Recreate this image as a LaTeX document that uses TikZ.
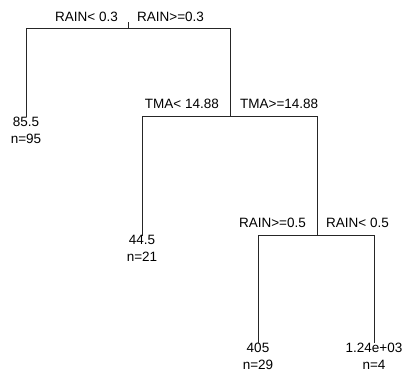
\documentclass[tikz,border=0pt]{standalone}
\usepackage{fontspec}
\setmainfont{Liberation Sans}
\begin{document}
\begin{tikzpicture}[x=1pt,y=-1pt,
  edge/.style={draw=black!85,line width=0.75pt},
  lbl/.style={inner sep=0pt,font=\fontsize{13.5}{17}\selectfont},
  leaf/.style={inner sep=0pt,anchor=north,align=center,font=\fontsize{13.5}{17}\selectfont}]
\useasboundingbox[fill=white] (0,0) rectangle (409,376);
% split points
\coordinate (top) at (128,22);
\coordinate (s1) at (128,28);
\coordinate (s1l) at (26,28);
\coordinate (s1r) at (230,28);
\coordinate (s2) at (230,116);
\coordinate (s2l) at (142,116);
\coordinate (s2r) at (317,116);
\coordinate (s3) at (317,235);
\coordinate (s3l) at (258,235);
\coordinate (s3r) at (374,235);
% split labels
\node[lbl,anchor=east] (l1a) at (118,17) {RAIN< 0.3};
\node[lbl,anchor=west] (l1b) at (137,17) {RAIN>=0.3};
\node[lbl,anchor=east] (l2a) at (219,104) {TMA< 14.88};
\node[lbl,anchor=west] (l2b) at (240,104) {TMA>=14.88};
\node[lbl,anchor=east] (l3a) at (306,223) {RAIN>=0.5};
\node[lbl,anchor=west] (l3b) at (326,223) {RAIN< 0.5};
% leaves
\node[leaf] (f1) at (26,117) {85.5\\n=95};
\node[leaf] (f2) at (142,235.5) {44.5\\n=21};
\node[leaf] (f3) at (258,343) {405\\n=29};
\node[leaf] (f4) at (374,343) {1.24e+03\\n=4};
% connectors
\draw[edge] (top) -- (s1);
\draw[edge] (s1l) -- (s1r);
\draw[edge] (s1l) -- (f1.north);
\draw[edge] (s1r) -- (s2);
\draw[edge] (s2l) -- (s2r);
\draw[edge] (s2l) -- (f2.north);
\draw[edge] (s2r) -- (s3);
\draw[edge] (s3l) -- (s3r);
\draw[edge] (s3l) -- (f3.north);
\draw[edge] (s3r) -- (f4.north);
\end{tikzpicture}
\end{document}
